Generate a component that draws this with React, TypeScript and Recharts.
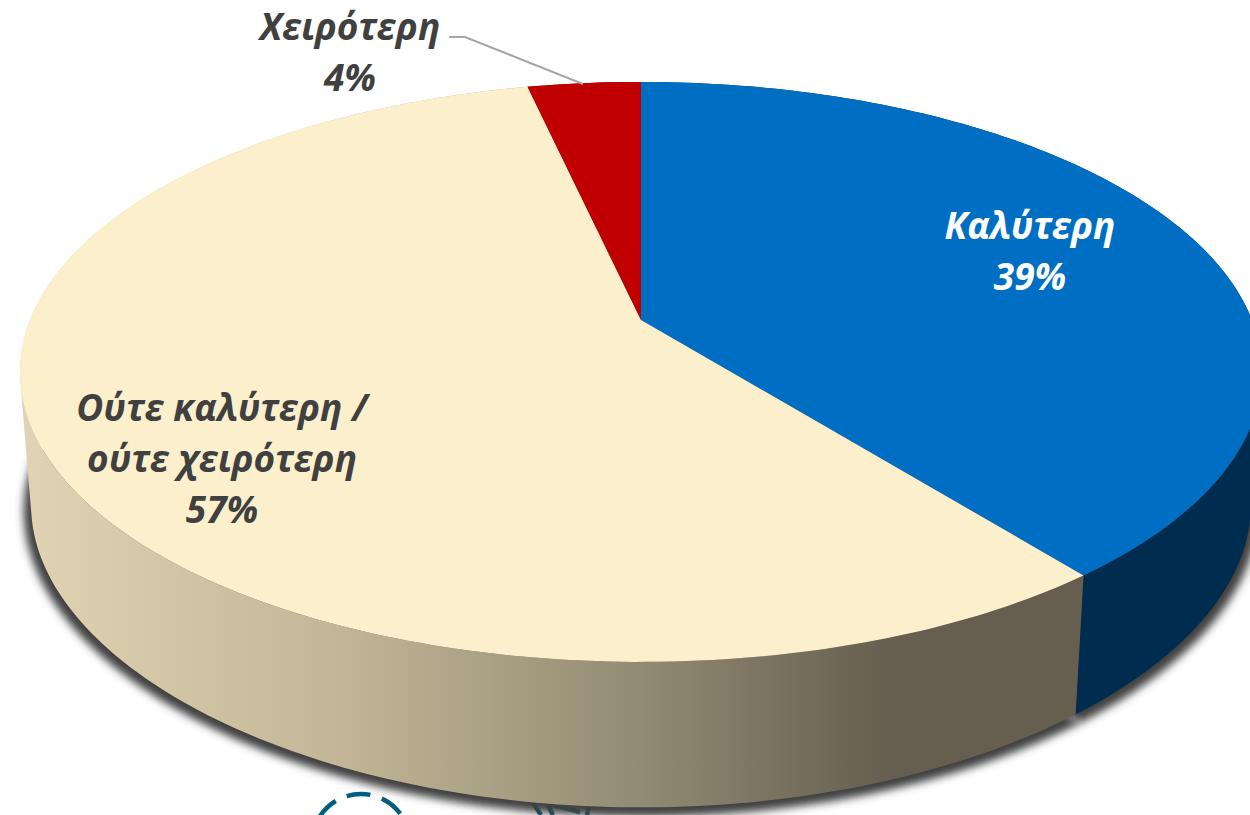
import { PieChart, Pie } from 'recharts'

const categories = ['Καλύτερη', 'Ούτε καλύτερη /\nούτε χειρότερη', 'Χειρότερη']
const shares = [39.3, 57.2, 3.5]
const topColors = ['#006FC3', '#FCEFCC', '#C00000']
const wallColors = ['#002D4F', 'url(#creamWall)', '#7A0000']
const labelColors = ['#FFFFFF', '#404040', '#404040']

const data = categories.map((name, i) => ({ name, value: shares[i] }))

const CX = 641
const CY = 320
const RADIUS = 611
const SQUASH = 0.4594
const TILT = 0.179
const BASE_TILT = 0.22
const DEPTH = 134
const BASE_SCALE = 0.982

// disc seen in perspective: theta is clockwise from 12 o'clock
const project = (theta: number, scale = 1, dy = 0, yTilt = TILT, cx = CX, cy = CY, r = RADIUS) => {
  const rad = (theta * Math.PI) / 180
  const u = Math.sin(rad)
  const v = -Math.cos(rad)
  return [cx + (r * scale * u) / (1 - TILT * v), cy + dy + (r * SQUASH * scale * v) / (1 - yTilt * v)]
}

const angleSteps = (from: number, to: number) => {
  const steps = []
  for (let t = from; t < to; t += 1) steps.push(t)
  steps.push(to)
  return steps
}

const slicePath = (p: any, scale: number, dy: number, yTilt: number) => {
  const from = 90 - p.startAngle
  const to = 90 - p.endAngle
  const rim = angleSteps(from, to).map(t => project(t, scale, dy, yTilt, p.cx, p.cy, p.outerRadius))
  const pts = rim.map(q => `${q[0].toFixed(2)} ${q[1].toFixed(2)}`).join(' L ')
  return `M ${p.cx} ${p.cy + dy} L ${pts} Z`
}

const TopSlice = (p: any) => <path d={slicePath(p, 1, 0, TILT)} fill={p.fill} />

const ShadowSlice = (p: any) => (
  <path d={slicePath(p, BASE_SCALE + 0.012, DEPTH + 5, BASE_TILT)} fill="#404040" filter="url(#pieShadow)" />
)

// side wall: small quads from the top rim to the base rim so the silhouette stays right
const WallSlice = (p: any) => {
  const steps = angleSteps(90 - p.startAngle, 90 - p.endAngle)
  let d = ''
  for (let i = 0; i < steps.length - 1; i++) {
    const a = project(steps[i], 1, 0, TILT, p.cx, p.cy, p.outerRadius)
    const b = project(steps[i + 1], 1, 0, TILT, p.cx, p.cy, p.outerRadius)
    const c = project(steps[i + 1], BASE_SCALE, DEPTH, BASE_TILT, p.cx, p.cy, p.outerRadius)
    const e = project(steps[i], BASE_SCALE, DEPTH, BASE_TILT, p.cx, p.cy, p.outerRadius)
    let quad = [a, b, c, e]
    const area = quad.reduce((s, q, j) => {
      const n = quad[(j + 1) % 4]
      return s + q[0] * n[1] - n[0] * q[1]
    }, 0)
    if (area < 0) quad = quad.reverse()
    d += 'M ' + quad.map(q => `${q[0].toFixed(2)} ${q[1].toFixed(2)}`).join(' L ') + ' Z '
  }
  return <path d={d} fill={p.fill} />
}

const labelSpots = [
  { x: 1030, y: 239 },
  { x: 222, y: 421 },
  { x: 350, y: 40 },
]

const SliceLabel = (p: any) => {
  const spot = labelSpots[p.index]
  const lines = [...categories[p.index].split('\n'), `${Math.round(shares[p.index])}%`]
  return (
    <g>
      {p.index === 2 && <polyline points="449,37 465,37 583,84" fill="none" stroke="#A6A6A6" strokeWidth={2} />}
      {lines.map((line, i) => (
        <text
          key={line}
          x={spot.x}
          y={spot.y + i * 51}
          textAnchor="middle"
          fontFamily="'Open Sans', sans-serif"
          fontWeight={700}
          fontStyle="italic"
          fontSize={37}
          fill={labelColors[p.index]}
        >
          {line}
        </text>
      ))}
    </g>
  )
}

const withColors = (colors: string[]) => data.map((d, i) => ({ ...d, fill: colors[i] }))

const App = () => (
  <div style={{ position: 'absolute', left: 0, top: 0, width: 1250, height: 815, background: '#fff' }}>
    <PieChart width={1250} height={815} margin={{ top: 0, right: 0, bottom: 0, left: 0 }}>
      <defs>
        <linearGradient id="creamWall" gradientUnits="userSpaceOnUse" x1="20" y1="0" x2="1083" y2="0">
          <stop offset="0" stopColor="#E0D4B4" />
          <stop offset="0.3" stopColor="#C2B696" />
          <stop offset="0.58" stopColor="#938B74" />
          <stop offset="0.82" stopColor="#665E4E" />
          <stop offset="1" stopColor="#665E4E" />
        </linearGradient>
        <filter id="pieShadow" x="-10%" y="-10%" width="120%" height="120%">
          <feGaussianBlur stdDeviation="4.5" />
        </filter>
      </defs>
      <g fill="none" stroke="#005F7F" strokeWidth={4.5}>
        <circle cx={361} cy={843} r={49} strokeDasharray="24 12" />
        <path d="M 531 800 L 541 815 M 545 800 L 553 815 M 590 800 L 587 815 M 546 803 L 580 812" />
      </g>
      <Pie data={withColors(topColors)} dataKey="value" cx={CX} cy={CY} outerRadius={RADIUS} startAngle={90} endAngle={-270} shape={ShadowSlice} stroke="none" isAnimationActive={false} />
      <Pie data={withColors(wallColors)} dataKey="value" cx={CX} cy={CY} outerRadius={RADIUS} startAngle={90} endAngle={-270} shape={WallSlice} stroke="none" isAnimationActive={false} />
      <Pie data={withColors(topColors)} dataKey="value" cx={CX} cy={CY} outerRadius={RADIUS} startAngle={90} endAngle={-270} shape={TopSlice} stroke="none" label={SliceLabel} labelLine={false} isAnimationActive={false} />
    </PieChart>
  </div>
)

export default App
